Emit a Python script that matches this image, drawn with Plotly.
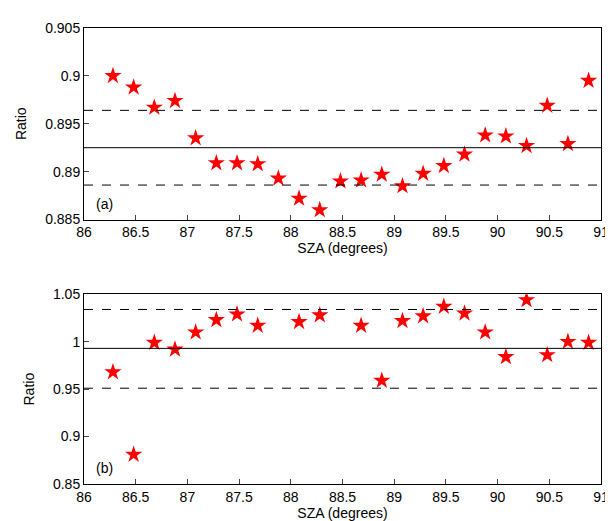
import plotly.graph_objects as go
from plotly.subplots import make_subplots

xa = [86.28,86.48,86.68,86.88,87.08,87.28,87.48,87.68,87.88,88.08,88.28,88.48,88.68,88.88,89.08,89.28,89.48,89.68,89.88,90.08,90.28,90.48,90.68,90.88]
ya = [0.9000,0.8988,0.8967,0.8974,0.8935,0.8909,0.8909,0.8908,0.8893,0.8872,0.8860,0.8890,0.8891,0.8897,0.8885,0.8898,0.8906,0.8918,0.8938,0.8937,0.8927,0.8969,0.8929,0.8995]
a_mean, a_lo, a_hi = 0.8925, 0.8886, 0.8964

xb = [86.28,86.48,86.68,86.88,87.08,87.28,87.48,87.68,88.08,88.28,88.68,88.88,89.08,89.28,89.48,89.68,89.88,90.08,90.28,90.48,90.68,90.88]
yb = [0.968,0.881,0.999,0.992,1.010,1.023,1.029,1.017,1.021,1.028,1.017,0.959,1.022,1.027,1.037,1.030,1.010,0.984,1.044,0.986,1.000,0.999]
b_mean, b_lo, b_hi = 0.993, 0.951, 1.034

fig = go.Figure()
fig.add_trace(go.Scatter(x=xa, y=ya, mode="markers", marker=dict(symbol="star", color="red", size=13, line=dict(width=0)), xaxis="x", yaxis="y"))
fig.add_trace(go.Scatter(x=xb, y=yb, mode="markers", marker=dict(symbol="star", color="red", size=13, line=dict(width=0)), xaxis="x2", yaxis="y2"))
for ax, m, lo, hi in [("y", a_mean, a_lo, a_hi), ("y2", b_mean, b_lo, b_hi)]:
    xr = "x" if ax == "y" else "x2"
    fig.add_shape(type="line", xref=xr+" domain", yref=ax, x0=0, x1=1, y0=m, y1=m, line=dict(color="black", width=1))
    for v in (lo, hi):
        fig.add_shape(type="line", xref=xr+" domain", yref=ax, x0=0, x1=1, y0=v, y1=v, line=dict(color="black", width=1, dash="dash"))
axstyle = dict(showline=True, mirror=True, linecolor="black", linewidth=1, ticks="inside", ticklen=5, showgrid=False, zeroline=False, tickfont=dict(size=14, color="black"))
fig.update_layout(
    width=613, height=521, plot_bgcolor="white", paper_bgcolor="white", showlegend=False,
    margin=dict(l=72, r=13, t=18, b=39),
    font=dict(family="Liberation Sans, Arial", color="black"),
    xaxis=dict(domain=[0,1], range=[86,91], dtick=0.5, anchor="y", title=dict(text="SZA (degrees)", font=dict(size=14), standoff=2), **axstyle),
    yaxis=dict(domain=[0.58,1], range=[0.885,0.905], dtick=0.005, anchor="x", title=dict(text="Ratio", font=dict(size=14)), **axstyle),
    xaxis2=dict(domain=[0,1], range=[86,91], dtick=0.5, anchor="y2", title=dict(text="SZA (degrees)", font=dict(size=14), standoff=2), **axstyle),
    yaxis2=dict(domain=[0,0.416], range=[0.85,1.05], dtick=0.05, anchor="x2", title=dict(text="Ratio", font=dict(size=14)), **axstyle),
    annotations=[
        dict(text="(a)", x=0.02, y=0.03, xref="x domain", yref="y domain", showarrow=False, xanchor="left", yanchor="bottom", font=dict(size=14)),
        dict(text="(b)", x=0.02, y=0.03, xref="x2 domain", yref="y2 domain", showarrow=False, xanchor="left", yanchor="bottom", font=dict(size=14)),
    ],
)
fig.write_html("out.html")
